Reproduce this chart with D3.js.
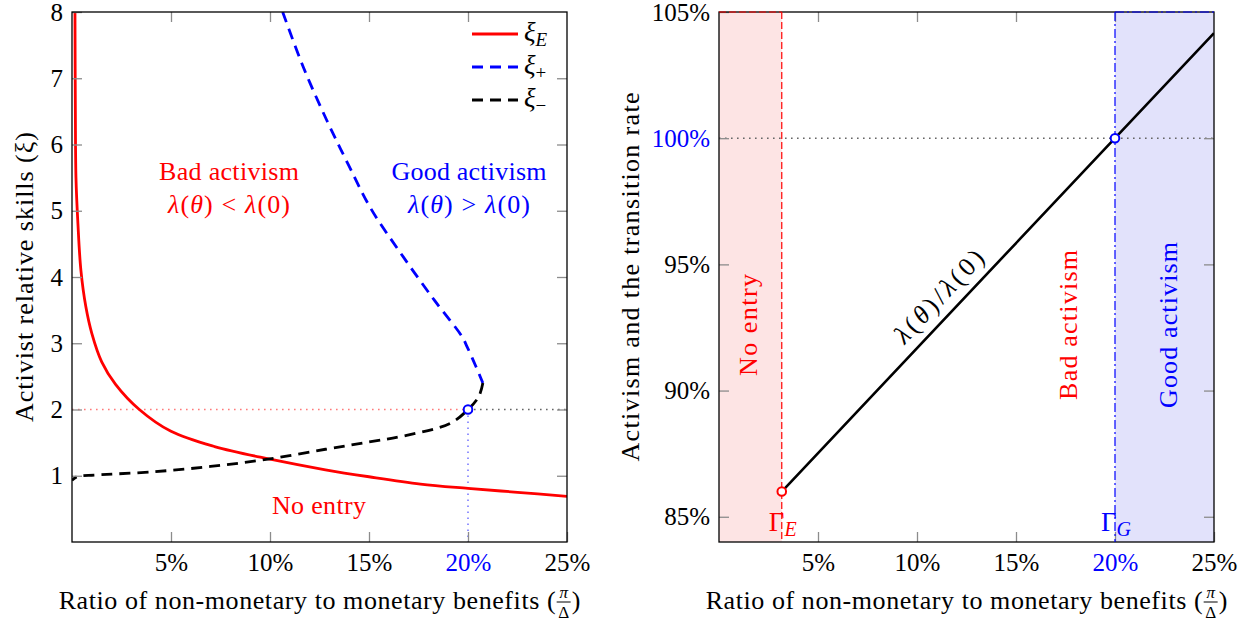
<!DOCTYPE html>
<html>
<head>
<meta charset="utf-8">
<script src="https://cdnjs.cloudflare.com/ajax/libs/d3/7.8.5/d3.min.js"></script>
<style>
body { margin: 0; background: #fff; }
</style>
</head>
<body>
<svg id="chart"></svg>
<script>
var width = 1250; // whole picture
var height = 624;
var fs = 26;      // text size
var tfs = 25;     // tick label size
var serif = "'Liberation Serif', 'Times New Roman', Tinos, 'DejaVu Serif', 'Noto Serif', serif";

// left panel: activist skill thresholds, x = pi/Delta
var xiE = [[0.0015, 8.0], [0.0017, 6.5], [0.0020, 5.5], [0.0030, 4.8], [0.0045, 4.1], [0.0070, 3.55],
	[0.010, 3.15], [0.015, 2.72], [0.022, 2.38], [0.034, 2.0], [0.050, 1.67], [0.072, 1.44],
	[0.100, 1.25], [0.128, 1.09], [0.150, 0.985], [0.176, 0.875], [0.200, 0.81], [0.225, 0.75], [0.250, 0.69]];
var xiPlus = [[0.1064, 8.0], [0.1168, 7.17], [0.1286, 6.37], [0.1395, 5.70], [0.1510, 5.03], [0.166, 4.36],
	[0.183, 3.65], [0.197, 3.10], [0.1995, 2.95], [0.204, 2.65], [0.2075, 2.40]];
var xiMinus = [[0.2075, 2.40], [0.2055, 2.20], [0.200, 2.00], [0.191, 1.79], [0.169, 1.61], [0.150, 1.51],
	[0.128, 1.40], [0.099, 1.25], [0.070, 1.14], [0.041, 1.06], [0.012, 1.01], [0.0025, 0.985], [0, 0.93]];
var xiCut = 2;

// right panel: lambda(theta)/lambda(0)
var gammaE = 0.0317;
var gammaG = 0.20;
var ratio = [[0.0317, 0.86], [0.20, 1.00], [0.25, 1.0416]];

// ticks
var xTicks = [0.05, 0.10, 0.15, 0.20, 0.25];
var xiTicks = [1, 2, 3, 4, 5, 6, 7, 8];
var rateTicks = [0.85, 0.90, 0.95, 1.00, 1.05];

var xL = d3.scaleLinear().domain([0, 0.25]).range([72, 567]);
var yL = d3.scaleLinear().domain([0, 8]).range([542, 12]);
var xR = d3.scaleLinear().domain([0, 0.25]).range([719, 1214]);
var yR = d3.scaleLinear().domain([0.84, 1.05]).range([542, 12]);

var pct = function (d) { return Math.round(d * 100) + "%"; };
var lam = function (op) {
	return "<tspan font-style='italic'>λ</tspan>(<tspan font-style='italic'>θ</tspan>)" + op +
		"<tspan font-style='italic'>λ</tspan>(0)";
};

var svg = d3.select("#chart")
	.attr("width", width)
	.attr("height", height)
	.attr("font-family", serif)
	.style("background", "#fff");

var defs = svg.append("defs");
function clip(id, x, y) {
	defs.append("clipPath").attr("id", id).append("rect")
		.attr("x", x.range()[0]).attr("y", y.range()[1])
		.attr("width", x.range()[1] - x.range()[0]).attr("height", y.range()[0] - y.range()[1]);
}
clip("clipL", xL, yL);
clip("clipR", xR, yR);

// ticks on all four sides, pointing inwards
function frame(x, y, yVals, yFmt, yColor) {
	var g = svg.append("g");
	var x0 = x.range()[0], x1 = x.range()[1], y0 = y.range()[0], y1 = y.range()[1];
	var parts = [
		g.append("g").attr("transform", "translate(0," + y0 + ")")
			.call(d3.axisBottom(x).tickValues(xTicks).tickSize(-10).tickPadding(11).tickFormat(pct)),
		g.append("g").attr("transform", "translate(0," + y1 + ")")
			.call(d3.axisTop(x).tickValues(xTicks.slice(0, -1)).tickSize(-10).tickFormat("")),
		g.append("g").attr("transform", "translate(" + x0 + ",0)")
			.call(d3.axisLeft(y).tickValues(yVals).tickSize(-10).tickPadding(9).tickFormat(yFmt)),
		g.append("g").attr("transform", "translate(" + x1 + ",0)")
			.call(d3.axisRight(y).tickValues(yVals.slice(0, -1)).tickSize(-10).tickFormat(""))
	];
	parts.forEach(function (p) {
		p.attr("font-family", serif).attr("font-size", tfs);
		p.select(".domain").remove();
		p.selectAll(".tick line").attr("stroke", "#8c8c8c").attr("stroke-width", 1.3);
		p.selectAll(".tick text").attr("fill", "#000");
	});
	parts[0].selectAll(".tick text").attr("fill", function (d) { return d === 0.20 ? "#0000ff" : "#000"; });
	parts[2].selectAll(".tick text").attr("fill", yColor);
	g.append("rect").attr("x", x0).attr("y", y1).attr("width", x1 - x0).attr("height", y0 - y1)
		.attr("fill", "none").attr("stroke", "#000").attr("stroke-width", 1.3);
	return g;
}

function xTitle(cx, y) {
	var g = svg.append("g").attr("font-size", fs);
	var w = 497;
	var t = g.append("text").attr("y", y).attr("textLength", w).attr("lengthAdjust", "spacing")
		.text("Ratio of non-monetary to monetary benefits (");
	var fw = 16;
	var c = g.append("text").attr("y", y).text(")");
	var cw = c.node().getComputedTextLength();
	var x0 = cx - (w + fw + cw) / 2;
	t.attr("x", x0);
	c.attr("x", x0 + w + fw);
	var fc = x0 + w + fw / 2;
	g.append("text").attr("x", fc).attr("y", y - 11).attr("font-size", 17).attr("font-style", "italic")
		.attr("text-anchor", "middle").text("π");
	g.append("line").attr("x1", fc - 7).attr("x2", fc + 7).attr("y1", y - 7).attr("y2", y - 7)
		.attr("stroke", "#000").attr("stroke-width", 1);
	g.append("text").attr("x", fc).attr("y", y + 9).attr("font-size", 17)
		.attr("text-anchor", "middle").text("Δ");
}

function yTitle(x, y, label, len) {
	svg.append("text").attr("transform", "translate(" + x + "," + y + ")rotate(-90)")
		.attr("text-anchor", "middle").attr("font-size", fs)
		.attr("textLength", len).attr("lengthAdjust", "spacing").text(label);
}

function label(x, y, color, len, html) {
	return svg.append("text").attr("x", x).attr("y", y).attr("text-anchor", "middle").attr("font-size", fs)
		.attr("fill", color).attr("textLength", len).attr("lengthAdjust", "spacing").html(html);
}

// ---------- left panel ----------
var smoothL = d3.line().curve(d3.curveCatmullRom.alpha(0.5))
	.x(function (d) { return xL(d[0]); }).y(function (d) { return yL(d[1]); });

var plotL = svg.append("g").attr("clip-path", "url(#clipL)");
// guide lines through the (20%, 2) point
plotL.append("line").attr("x1", xL(0)).attr("x2", xL(gammaG)).attr("y1", yL(xiCut)).attr("y2", yL(xiCut))
	.attr("stroke", "#ff7a7a").attr("stroke-width", 1.6).attr("stroke-dasharray", "1.6,4.4");
plotL.append("line").attr("x1", xL(gammaG)).attr("x2", xL(0.25)).attr("y1", yL(xiCut)).attr("y2", yL(xiCut))
	.attr("stroke", "#666").attr("stroke-width", 1.6).attr("stroke-dasharray", "1.6,4.4");
plotL.append("line").attr("x1", xL(gammaG)).attr("x2", xL(gammaG)).attr("y1", yL(xiCut)).attr("y2", yL(0))
	.attr("stroke", "#7a7aff").attr("stroke-width", 1.6).attr("stroke-dasharray", "1.6,4.4");

plotL.append("path").datum(xiE).attr("d", smoothL)
	.attr("fill", "none").attr("stroke", "#ff0000").attr("stroke-width", 2.8);
plotL.append("path").datum(xiPlus).attr("d", smoothL)
	.attr("fill", "none").attr("stroke", "#0000ff").attr("stroke-width", 2.8).attr("stroke-dasharray", "11,7");
plotL.append("path").datum(xiMinus).attr("d", smoothL)
	.attr("fill", "none").attr("stroke", "#000").attr("stroke-width", 2.8).attr("stroke-dasharray", "11,7");
svg.append("circle").attr("cx", xL(gammaG)).attr("cy", yL(xiCut)).attr("r", 4.3)
	.attr("fill", "#fff").attr("stroke", "#0000ff").attr("stroke-width", 2);

frame(xL, yL, xiTicks, d3.format("d"), "#000");

label(229, 180, "#ff0000", 140, "Bad activism");
label(229, 213, "#ff0000", 122, lam(" &lt; "));
label(469, 180, "#0000ff", 155, "Good activism");
label(469, 213, "#0000ff", 122, lam(" &gt; "));
label(319, 514, "#ff0000", 94, "No entry");

// legend
var legend = [
	{ sub: "E", italic: true, color: "#ff0000", dash: null },
	{ sub: "+", italic: false, color: "#0000ff", dash: "11,7" },
	{ sub: "−", italic: false, color: "#000", dash: "11,7" }
];
var lg = svg.append("g").selectAll("g").data(legend).enter().append("g")
	.attr("transform", function (d, i) { return "translate(0," + (34 + i * 33) + ")"; });
lg.append("line").attr("x1", 472).attr("x2", 518).attr("stroke", function (d) { return d.color; })
	.attr("stroke-width", 2.8).attr("stroke-dasharray", function (d) { return d.dash; });
var lt = lg.append("text").attr("x", 524).attr("y", 7).attr("font-size", 27);
lt.append("tspan").attr("font-style", "italic").text("ξ");
lt.append("tspan").attr("dy", 5).attr("font-size", 19)
	.attr("font-style", function (d) { return d.italic ? "italic" : null; }).text(function (d) { return d.sub; });

xTitle(319.5, 609);
yTitle(33, 277, "Activist relative skills (ξ)", 290);

// ---------- right panel ----------
var plotR = svg.append("g").attr("clip-path", "url(#clipR)");
var shade = [
	{ x0: 0, x1: gammaE, fill: "#fde4e4" },
	{ x0: gammaG, x1: 0.25, fill: "#e2e2fb" }
];
plotR.selectAll("rect.shade").data(shade).enter().append("rect").attr("class", "shade")
	.attr("x", function (d) { return xR(d.x0); }).attr("y", yR(1.05))
	.attr("width", function (d) { return xR(d.x1) - xR(d.x0); }).attr("height", yR(0.84) - yR(1.05))
	.attr("fill", function (d) { return d.fill; });
plotR.append("line").attr("x1", xR(0)).attr("x2", xR(0.25)).attr("y1", yR(1)).attr("y2", yR(1))
	.attr("stroke", "#666").attr("stroke-width", 1.6).attr("stroke-dasharray", "1.6,4.4");

var lineR = d3.line().x(function (d) { return xR(d[0]); }).y(function (d) { return yR(d[1]); });
plotR.append("path").datum(ratio).attr("d", lineR)
	.attr("fill", "none").attr("stroke", "#000").attr("stroke-width", 2.6);

frame(xR, yR, rateTicks, pct, function (d) { return d === 1.00 ? "#0000ff" : "#000"; });

// region borders drawn over the frame
svg.selectAll("line.edge").data([
	{ x: gammaE, c: "#ff0000", dash: "7,3" }, { x: gammaG, c: "#0000ff", dash: "9,3,2,3" }
]).enter().append("line").attr("class", "edge")
	.attr("x1", function (d) { return xR(d.x); }).attr("x2", function (d) { return xR(d.x); })
	.attr("y1", yR(1.05)).attr("y2", yR(0.84))
	.attr("stroke", function (d) { return d.c; }).attr("stroke-width", 1.2)
	.attr("stroke-dasharray", function (d) { return d.dash; });
svg.append("line").attr("x1", xR(0)).attr("x2", xR(gammaE)).attr("y1", yR(1.05)).attr("y2", yR(1.05))
	.attr("stroke", "#ff0000").attr("stroke-width", 1.2).attr("stroke-dasharray", "7,3");
svg.append("line").attr("x1", xR(gammaG)).attr("x2", xR(0.25)).attr("y1", yR(1.05)).attr("y2", yR(1.05))
	.attr("stroke", "#0000ff").attr("stroke-width", 1.2).attr("stroke-dasharray", "9,3,2,3");

svg.append("circle").attr("cx", xR(ratio[0][0])).attr("cy", yR(ratio[0][1])).attr("r", 4.3)
	.attr("fill", "#fff").attr("stroke", "#ff0000").attr("stroke-width", 2);
svg.append("circle").attr("cx", xR(gammaG)).attr("cy", yR(1)).attr("r", 4.3)
	.attr("fill", "#fff").attr("stroke", "#0000ff").attr("stroke-width", 2);

// rotated region labels
var regions = [
	{ text: "No entry", x: 0.0192, color: "#ff0000", len: 102 },
	{ text: "Bad activism", x: 0.181, color: "#ff0000", len: 150 },
	{ text: "Good activism", x: 0.2315, color: "#0000ff", len: 166 }
];
svg.selectAll("text.region").data(regions).enter().append("text").attr("class", "region")
	.attr("transform", function (d) { return "translate(" + xR(d.x) + "," + yR(0.926) + ")rotate(-90)"; })
	.attr("text-anchor", "middle").attr("font-size", fs).attr("fill", function (d) { return d.color; })
	.attr("textLength", function (d) { return d.len; }).attr("lengthAdjust", "spacing")
	.text(function (d) { return d.text; });

// label along the line
var ang = Math.atan2(yR(ratio[1][1]) - yR(ratio[0][1]), xR(ratio[1][0]) - xR(ratio[0][0])) * 180 / Math.PI;
var lx = 0.1183, ly = ratio[0][1] + (lx - ratio[0][0]) * (ratio[1][1] - ratio[0][1]) / (ratio[1][0] - ratio[0][0]);
svg.append("text").attr("transform", "translate(" + xR(lx) + "," + yR(ly) + ")rotate(" + ang + ")")
	.attr("text-anchor", "middle").attr("dy", -11).attr("font-size", fs)
	.attr("textLength", 118).attr("lengthAdjust", "spacing").html(lam("/"));

// Gamma labels
[{ x: gammaE, sub: "E", c: "#ff0000" }, { x: gammaG, sub: "G", c: "#0000ff" }].forEach(function (d) {
	var t = svg.append("text").attr("x", xR(d.x) + 1).attr("y", 531).attr("text-anchor", "middle")
		.attr("font-size", 27).attr("fill", d.c);
	t.append("tspan").text("Γ");
	t.append("tspan").attr("dy", 5).attr("font-size", 20).attr("font-style", "italic").text(d.sub);
});

xTitle(966.5, 609);
yTitle(639, 277, "Activism and the transition rate", 369);
</script>
</body>
</html>
